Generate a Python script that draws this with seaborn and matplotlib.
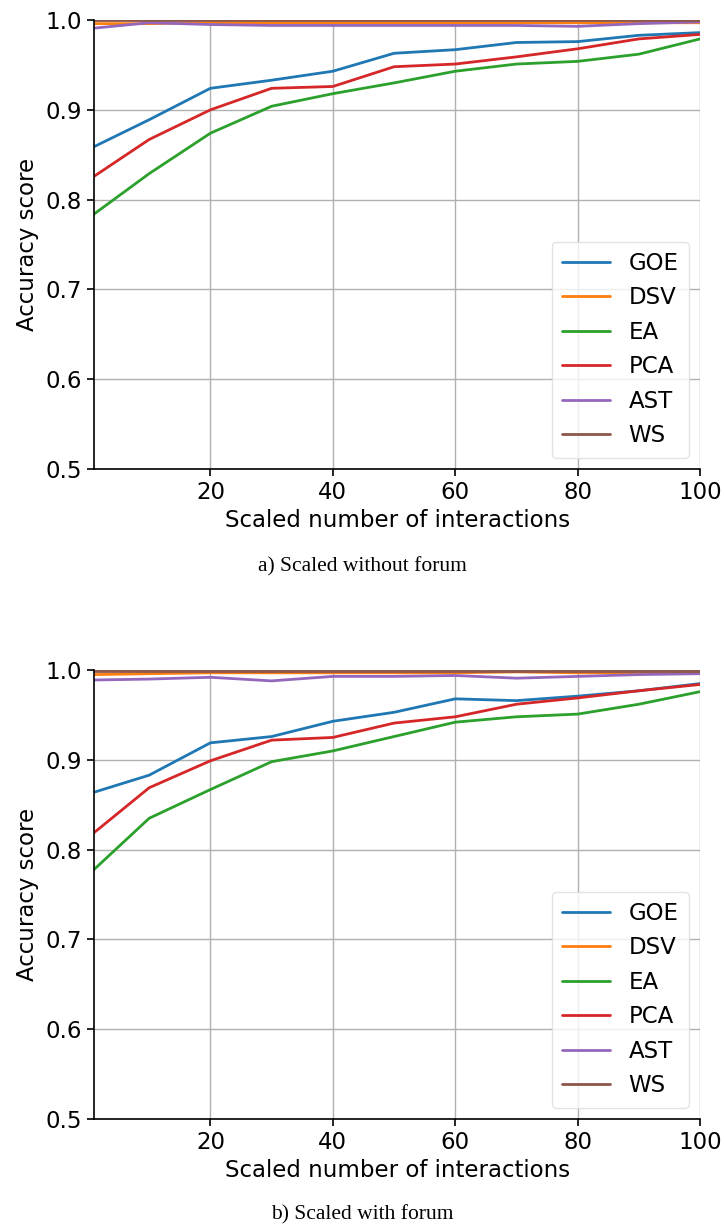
import numpy as np
import pandas as pd
import matplotlib
matplotlib.use("Agg")
import matplotlib.pyplot as plt
import seaborn as sns

# Scaled number of interactions
interactions = [1, 10, 20, 30, 40, 50, 60, 70, 80, 90, 100]
methods = ["GOE", "DSV", "EA", "PCA", "AST", "WS"]

# a) scaled, without forum
goe_a = [0.859, 0.889, 0.924, 0.933, 0.943, 0.963, 0.967, 0.975, 0.976, 0.983, 0.986]
dsv_a = [0.996, 0.996, 0.997, 0.997, 0.997, 0.997, 0.997, 0.997, 0.997, 0.997, 0.997]
ea_a = [0.784, 0.829, 0.874, 0.904, 0.918, 0.930, 0.943, 0.951, 0.954, 0.962, 0.979]
pca_a = [0.826, 0.867, 0.900, 0.924, 0.926, 0.948, 0.951, 0.959, 0.968, 0.979, 0.984]
ast_a = [0.991, 0.997, 0.995, 0.994, 0.994, 0.994, 0.994, 0.994, 0.993, 0.996, 0.998]
ws_a = [0.9995, 0.9995, 0.9995, 0.9995, 0.9995, 0.9995, 0.9995, 0.9995, 0.9995, 0.9995, 0.9995]

# b) scaled, with forum
goe_b = [0.864, 0.883, 0.919, 0.926, 0.943, 0.953, 0.968, 0.966, 0.971, 0.977, 0.985]
dsv_b = [0.995, 0.996, 0.997, 0.997, 0.997, 0.997, 0.997, 0.998, 0.997, 0.997, 0.997]
ea_b = [0.778, 0.835, 0.867, 0.898, 0.910, 0.926, 0.942, 0.948, 0.951, 0.962, 0.976]
pca_b = [0.819, 0.869, 0.899, 0.922, 0.925, 0.941, 0.948, 0.962, 0.969, 0.977, 0.984]
ast_b = [0.989, 0.990, 0.992, 0.988, 0.993, 0.993, 0.994, 0.991, 0.993, 0.995, 0.996]
ws_b = [0.9995, 0.9995, 0.9995, 0.9995, 0.9995, 0.9995, 0.9995, 0.9995, 0.9995, 0.9995, 0.9995]

y_ticks = [0.5, 0.6, 0.7, 0.8, 0.9, 1.0]
x_ticks = [20, 40, 60, 80, 100]
captions = ["a) Scaled without forum", "b) Scaled with forum"]


def to_long(series):
    frames = []
    for name, vals in zip(methods, series):
        frames.append(pd.DataFrame({"x": interactions, "score": vals, "method": name}))
    return pd.concat(frames, ignore_index=True)


panels = [
    to_long([goe_a, dsv_a, ea_a, pca_a, ast_a, ws_a]),
    to_long([goe_b, dsv_b, ea_b, pca_b, ast_b, ws_b]),
]

sns.set_style("ticks")
plt.rcParams["font.family"] = ["DejaVu Sans"]
plt.rcParams["text.color"] = "black"
plt.rcParams["axes.labelcolor"] = "black"
plt.rcParams["xtick.color"] = "black"
plt.rcParams["ytick.color"] = "black"

FS = 16.5

fig = plt.figure(figsize=(7.24, 12.30), dpi=100)
ax_rects = [
    [0.130, 0.6187, 0.837, 0.365],
    [0.130, 0.0902, 0.837, 0.365],
]
caption_y = [0.5390, 0.0125]

palette = sns.color_palette("tab10", 6)

for df, rect, cap, cy in zip(panels, ax_rects, captions, caption_y):
    ax = fig.add_axes(rect)
    sns.lineplot(data=df, x="x", y="score", hue="method", hue_order=methods,
                 palette=palette, linewidth=2, ax=ax, legend=True)
    ax.set_xlim(1, 100)
    ax.set_ylim(0.5, 1.0)
    ax.set_xticks(x_ticks)
    ax.set_yticks(y_ticks)
    ax.set_yticklabels([f"{v:.1f}" for v in y_ticks])
    ax.grid(True, color="#b0b0b0", linewidth=1.0)
    ax.set_axisbelow(True)
    for side in ["top", "right"]:
        ax.spines[side].set_visible(False)
    for side in ["left", "bottom"]:
        ax.spines[side].set_linewidth(1.2)
        ax.spines[side].set_color("black")
    ax.tick_params(labelsize=FS, width=1.2, length=5)
    ax.set_xlabel("Scaled number of interactions", fontsize=FS, labelpad=4)
    ax.set_ylabel("Accuracy score", fontsize=FS, labelpad=5)
    leg = ax.legend(loc="lower right", fontsize=FS, handlelength=2.1,
                    labelspacing=0.5, borderpad=0.45, handletextpad=0.8,
                    borderaxespad=0.5, frameon=True, fancybox=True)
    leg.get_frame().set_edgecolor("#dddddd")
    fig.text(0.5, cy, cap, ha="center", va="center", fontsize=15.5,
             family=["Liberation Serif", "DejaVu Serif"])

fig.savefig("out.png", dpi=100, facecolor="white")
